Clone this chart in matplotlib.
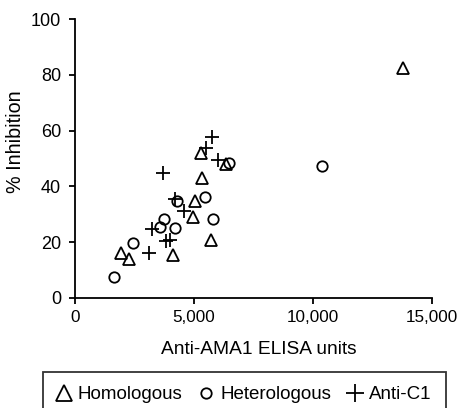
import matplotlib
matplotlib.use("Agg")
import matplotlib.pyplot as plt
from matplotlib.ticker import FuncFormatter
from matplotlib.lines import Line2D

plt.rcParams['font.family'] = ['Liberation Sans', 'DejaVu Sans']

homologous_x = [13770, 5290, 6340, 5320, 5040, 4940, 5700, 4100, 1930, 2270]
homologous_y = [82.3, 52.1, 47.9, 43.1, 34.9, 28.9, 20.8, 15.4, 16.0, 13.9]

heterologous_x = [10380, 6480, 5460, 4270, 5790, 3750, 3570, 4210, 2450, 1650]
heterologous_y = [47.4, 48.5, 36.3, 34.9, 28.4, 28.3, 25.6, 25.0, 19.8, 7.6]

antic1_x = [5740, 5490, 6020, 3710, 4200, 4590, 3220, 3840, 4000, 3110]
antic1_y = [57.8, 53.7, 49.5, 44.9, 35.5, 31.3, 24.6, 20.4, 20.8, 16.0]

x_ticks = [0, 5000, 10000, 15000]
y_ticks = [0, 20, 40, 60, 80, 100]

W, H = 461, 408
fig = plt.figure(figsize=(W / 100, H / 100), dpi=100)
ax = fig.add_axes([75 / W, 1 - 298 / H, (432 - 75) / W, (298 - 19) / H])

mk = dict(linestyle='none', color='black', markerfacecolor='none', markeredgewidth=1.3, clip_on=False)
ax.plot(homologous_x, homologous_y, marker='^', markersize=8, label='Homologous', **mk)
ax.plot(heterologous_x, heterologous_y, marker='o', markersize=7.5, label='Heterologous', **mk)
ax.plot(antic1_x, antic1_y, marker='+', markersize=10, label='Anti-C1', **mk)

ax.set_xlim(0, 15000)
ax.set_ylim(0, 100)
ax.set_xticks(x_ticks)
ax.set_yticks(y_ticks)
ax.xaxis.set_major_formatter(FuncFormatter(lambda v, p: f"{int(v):,}"))
for s in ['top', 'right']:
    ax.spines[s].set_visible(False)
for s in ['left', 'bottom']:
    ax.spines[s].set_linewidth(1.3)
ax.tick_params(axis='both', direction='out', length=4, width=1.3, pad=5)
ax.tick_params(axis='x', labelsize=12.3)
ax.tick_params(axis='y', labelsize=13, pad=6)
ax.set_xlabel('Anti-AMA1 ELISA units', fontsize=13.8, va='center')
ax.xaxis.set_label_coords(0.514, -0.186)
ax.set_ylabel('% Inhibition', fontsize=14.2, va='center')
ax.yaxis.set_label_coords(-0.168, 0.56)

lh = dict(linestyle='none', color='black', markerfacecolor='none', markeredgewidth=1.3)
handles = [Line2D([], [], marker='^', markersize=11, **lh),
           Line2D([], [], marker='o', markersize=7.5, **lh),
           Line2D([], [], marker='+', markersize=13, **lh)]
labels = ['Homologous', 'Heterologous', 'Anti-C1']
leg = fig.legend(handles, labels, loc='upper center', bbox_to_anchor=(244 / W, 1 - 372 / H),
                 ncol=3, frameon=True, fancybox=False, edgecolor='black', fontsize=13.5,
                 handlelength=0.75, handletextpad=0.37, columnspacing=0.9, borderpad=0.75,
                 borderaxespad=0)
leg.get_frame().set_linewidth(1.3)

fig.savefig('out.png', dpi=100)
